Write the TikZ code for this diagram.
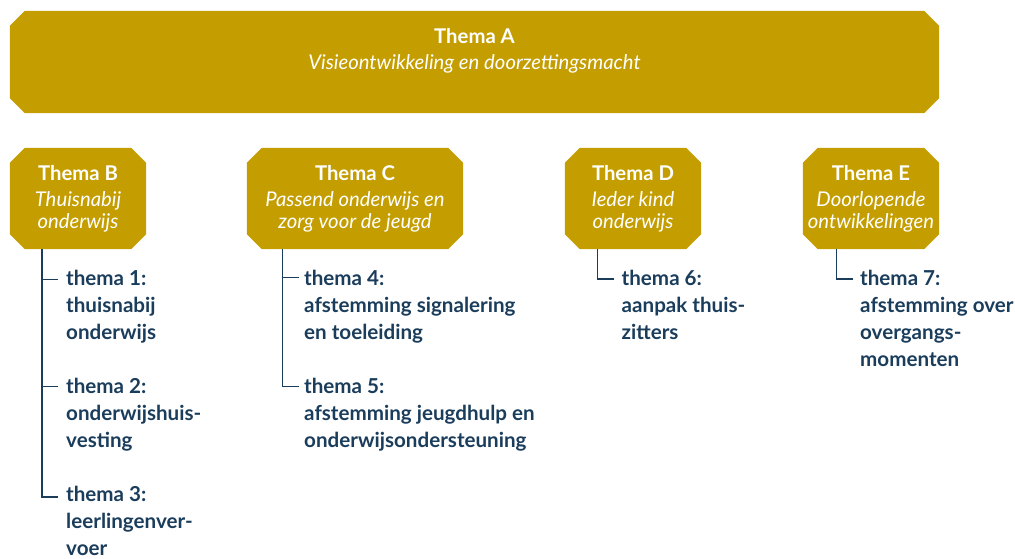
\documentclass[tikz,border=0pt]{standalone}
\usepackage{fontspec}
\setmainfont{Lato}
\definecolor{gold}{HTML}{C49E00}
\definecolor{navy}{HTML}{1B3D5C}
% fill a box node as an octagon with 15pt chamfers
\newcommand\chamferbox[1]{%
  \fill[gold] ([xshift=15pt]#1.north west) -- ([xshift=-15pt]#1.north east)
    -- ([yshift=-15pt]#1.north east) -- ([yshift=15pt]#1.south east)
    -- ([xshift=-15pt]#1.south east) -- ([xshift=15pt]#1.south west)
    -- ([yshift=15pt]#1.south west) -- ([yshift=-15pt]#1.north west) -- cycle;}
\begin{document}
\begin{tikzpicture}[x=1pt,y=-1pt,
  box/.style={rectangle, draw=none, inner sep=0pt, minimum height=101pt},
  ttl/.style={anchor=base, inner sep=0pt, text=white,
    font=\bfseries\fontsize{20.3}{22.3}\selectfont},
  sub/.style={anchor=base, inner sep=0pt, text=white, align=center,
    font=\itshape\fontsize{20.3}{22.3}\selectfont},
  item/.style={anchor=base west, inner sep=0pt, text=navy, align=left,
    font=\bfseries\fontsize{20.6}{27}\selectfont},
  conn/.style={draw=navy, line width=1.5pt}]
\useasboundingbox (0,0) rectangle (1015,559);

% theme boxes
\node[box, minimum width=929pt, minimum height=102pt] (A) at (474.5,62) {};
\node[box, minimum width=136pt] (B) at (78,198.5) {};
\node[box, minimum width=216pt] (C) at (355,198.5) {};
\node[box, minimum width=136pt] (D) at (633,198.5) {};
\node[box, minimum width=136pt] (E) at (871,198.5) {};
\chamferbox{A}\chamferbox{B}\chamferbox{C}\chamferbox{D}\chamferbox{E}

% box captions (multi-line nodes sit on the baseline of their last line)
\node[ttl] (At) at (474.5,44) {Thema A};
\node[sub] (As) at (474.5,70) {Visieontwikkeling en doorzettingsmacht};
\node[ttl] (Bt) at (78,180) {Thema B};
\node[sub] (Bs1) at (78,228.3) {Thuisnabij\\onderwijs};
\node[ttl] (Ct) at (355,180) {Thema C};
\node[sub] (Cs1) at (355,228.3) {Passend onderwijs en\\zorg voor de jeugd};
\node[ttl] (Dt) at (633,180) {Thema D};
\node[sub] (Ds1) at (633,228.3) {Ieder kind\\onderwijs};
\node[ttl] (Et) at (871,180) {Thema E};
\node[sub] (Es1) at (871,228.3) {Doorlopende\\ontwikkelingen};

% sub-themes
\node[item] (t1) at (66,339) {thema 1:\\thuisnabij\\onderwijs};
\node[item] (t2) at (66,447) {thema 2:\\onderwijshuis-\\vesting};
\node[item] (t3) at (66,555) {thema 3:\\leerlingenver-\\voer};
\node[item] (t4) at (304,339) {thema 4:\\afstemming signalering\\en toeleiding};
\node[item] (t5) at (304,447) {thema 5:\\afstemming jeugdhulp en\\onderwijsondersteuning};
\node[item] (t6) at (621.5,339) {thema 6:\\aanpak thuis-\\zitters};
\node[item] (t7) at (860,366) {thema 7:\\afstemming over\\overgangs-\\momenten};

% tree connectors
\coordinate (Bv) at ([xshift=-36pt]B.south);
\coordinate (b1) at (57.5,279.3);
\coordinate (b2) at (57.5,386.7);
\coordinate (b3) at (57.5,497);
\draw[conn] (Bv) |- (b3);
\draw[conn] (Bv |- b1) -- (b1);
\draw[conn] (Bv |- b2) -- (b2);

\coordinate (Cv) at ([xshift=-72.3pt]C.south);
\coordinate (c1) at (298.5,277.5);
\coordinate (c2) at (298.5,386.7);
\draw[conn] (Cv) |- (c2);
\draw[conn] (Cv |- c1) -- (c1);

\coordinate (Dv) at ([xshift=-35.3pt]D.south);
\coordinate (d1) at (614,279);
\draw[conn] (Dv) |- (d1);

\coordinate (Ev) at ([xshift=-34.3pt]E.south);
\coordinate (e1) at (853,279);
\draw[conn] (Ev) |- (e1);
\end{tikzpicture}
\end{document}
